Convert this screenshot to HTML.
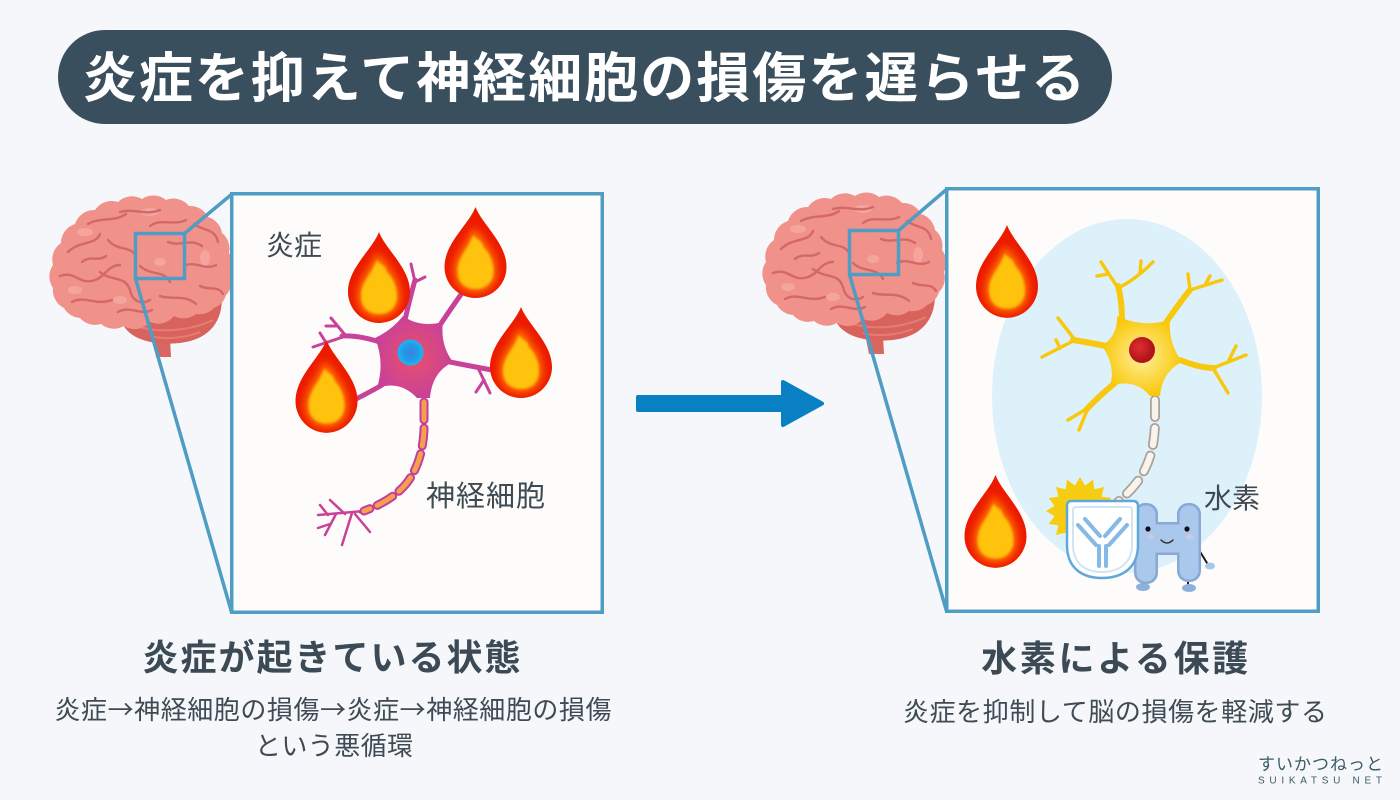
<!DOCTYPE html>
<html><head><meta charset="utf-8">
<style>
html,body{margin:0;padding:0;background:#f6f7fa;}
svg{display:block;}
text{font-family:"Liberation Sans","Noto Sans CJK JP",sans-serif;}
.cj{font-family:"Noto Sans CJK JP",sans-serif;}
</style></head>
<body>
<svg width="1400" height="800" viewBox="0 0 1400 800" xmlns="http://www.w3.org/2000/svg">
<defs>
  <filter id="b3" x="-50%" y="-50%" width="200%" height="200%"><feGaussianBlur stdDeviation="3"/></filter>
  <filter id="b1" x="-50%" y="-50%" width="200%" height="200%"><feGaussianBlur stdDeviation="1.3"/></filter>
  <clipPath id="fc"><path d="M0,0 C7,18 31,36 31,60 A31,31 0 0 1 -31,60 C-31,36 -7,18 0,0 Z"/></clipPath>
  <g id="flame">
    <path d="M0,0 C7,18 31,36 31,60 A31,31 0 0 1 -31,60 C-31,36 -7,18 0,0 Z" fill="#ec1b00"/>
    <g clip-path="url(#fc)">
      <path d="M-2,28 C2,34 6,32 8,40 C14,46 18,55 18,64 C18,76 10,82 0,82 C-10,82 -18,76 -18,64 C-18,52 -10,44 -6,36 C-4,32 -3,30 -2,28 Z" fill="#ff6a00" filter="url(#b3)" transform="translate(0,64) scale(1.22) translate(0,-64)"/>
      <path d="M-2,28 C2,34 6,32 8,40 C14,46 18,55 18,64 C18,76 10,82 0,82 C-10,82 -18,76 -18,64 C-18,52 -10,44 -6,36 C-4,32 -3,30 -2,28 Z" fill="#ffc20e" filter="url(#b1)"/>
    </g>
  </g>
  <radialGradient id="magBody" cx="0.5" cy="0.5" r="0.55"><stop offset="0" stop-color="#e8506a"/><stop offset="1" stop-color="#c6409c"/></radialGradient>
  <radialGradient id="blueNuc"><stop offset="0" stop-color="#3f7fe0"/><stop offset="0.6" stop-color="#1e9de8"/><stop offset="1" stop-color="#22b4f0"/></radialGradient>
  <radialGradient id="yelBody"><stop offset="0" stop-color="#fff0a0"/><stop offset="1" stop-color="#f9c80a"/></radialGradient>
  <radialGradient id="redNuc" cx="0.4" cy="0.4"><stop offset="0" stop-color="#e03030"/><stop offset="1" stop-color="#b3141c"/></radialGradient>
  <g id="brain">
    <polygon points="149,322 169,320 171,357 156,357" fill="#d9675f"/>
    <path d="M120,314 C122,338 150,346 180,343 C205,340 222,326 222,298 L205,310 Z" fill="#d8625c"/>
    <path d="M150,336 C165,340 185,338 200,332 M140,327 C160,333 190,331 213,320" stroke="#e57d72" stroke-width="2" fill="none"/>
    <path d="M64,308 A20,20 0 0 1 53,288 A20,20 0 0 1 53,265 A20,20 0 0 1 61,243 A20,20 0 0 1 75,224 A20,20 0 0 1 95,210 A20,20 0 0 1 118,202 A20,20 0 0 1 142,199 A20,20 0 0 1 166,200 A20,20 0 0 1 189,206 A20,20 0 0 1 208,217 A20,20 0 0 1 222,233 A20,20 0 0 1 229,253 A20,20 0 0 1 231,275 A20,20 0 0 1 226,295 A20,20 0 0 1 214,308 A20,20 0 0 1 196,314 A20,20 0 0 1 174,316 A20,20 0 0 1 150,322 A20,20 0 0 1 124,326 A20,20 0 0 1 101,324 A20,20 0 0 1 80,318 A20,20 0 0 1 64,308 Z" fill="#f0918a"/>
    <g fill="#f6aaa2" opacity="0.8">
      <ellipse cx="85" cy="232" rx="8" ry="4"/><ellipse cx="150" cy="212" rx="9" ry="4"/>
      <ellipse cx="205" cy="258" rx="5" ry="8"/><ellipse cx="75" cy="290" rx="7" ry="4"/>
      <ellipse cx="160" cy="262" rx="6" ry="4"/><ellipse cx="120" cy="300" rx="7" ry="4"/>
    </g>
    <g stroke="#d3686b" stroke-width="2.4" fill="none" stroke-linecap="round">
      <path d="M68,252 C80,240 95,246 100,234"/>
      <path d="M60,276 C75,270 80,286 95,280 C105,277 108,265 120,265"/>
      <path d="M72,302 C85,295 95,306 112,300"/>
      <path d="M88,224 C100,217 115,222 126,214"/>
      <path d="M108,240 C118,252 130,245 136,256"/>
      <path d="M120,212 C135,208 145,216 160,210"/>
      <path d="M150,226 C160,218 175,226 186,220"/>
      <path d="M168,242 C180,247 190,238 202,246"/>
      <path d="M194,224 C205,232 215,228 218,242"/>
      <path d="M100,272 C112,282 125,275 130,290 C132,300 140,306 150,300"/>
      <path d="M140,266 C150,276 165,270 170,282"/>
      <path d="M160,296 C170,300 185,294 196,304"/>
      <path d="M184,266 C195,260 205,271 216,265"/>
      <path d="M200,286 C210,291 218,285 223,294"/>
      <path d="M118,312 C130,305 140,316 152,310"/>
      <path d="M82,262 C90,255 98,262 106,256"/>
    </g>
  </g>
</defs>

<!-- Title pill -->
<rect x="58" y="30" width="1054" height="94" rx="47" fill="#3a4f5d"/>
<text x="585" y="97" text-anchor="middle" font-size="54" font-weight="bold" fill="#ffffff" letter-spacing="2">炎症を抑えて神経細胞の損傷を遅らせる</text>

<!-- Brains -->
<use href="#brain"/>
<use href="#brain" transform="translate(713,-3)"/>

<!-- Left box -->
<rect x="231.75" y="193.75" width="370.5" height="418.5" fill="#fefcfa" stroke="#4f9cc4" stroke-width="3.5"/>
<g stroke="#4f9cc4" stroke-width="3.5" fill="none">
  <rect x="135.5" y="233.5" width="49" height="45"/>
  <line x1="184.5" y1="233.5" x2="232" y2="194"/>
  <line x1="135.5" y1="278.5" x2="231.5" y2="612"/>
</g>

<!-- Right box -->
<rect x="946.75" y="188.75" width="371.5" height="422.5" fill="#fefcfa" stroke="#4f9cc4" stroke-width="3.5"/>
<g stroke="#4f9cc4" stroke-width="3.5" fill="none">
  <rect x="849.5" y="230.5" width="49" height="44"/>
  <line x1="898.5" y1="230.5" x2="947" y2="189"/>
  <line x1="849.5" y1="274.5" x2="946.5" y2="611"/>
</g>

<!-- Left neuron -->
<g stroke="#c9429a" fill="none" stroke-linecap="round">
  <path d="M388,345 Q362,335 342,336" stroke-width="5"/>
  <path d="M346,336 L331,318 M337,326 L326,326 M346,336 L313,347 M325,341 L320,333" stroke-width="3"/>
  <path d="M405,320 Q410,298 415,280" stroke-width="5"/>
  <path d="M415,282 L411,264 M415,282 L425,277" stroke-width="3"/>
  <path d="M440,325 Q450,310 462,293" stroke-width="5"/>
  <path d="M450,362 Q470,366 492,370" stroke-width="5"/>
  <path d="M478,368 L490,393 M484,380 L476,392" stroke-width="3"/>
  <path d="M382,385 Q370,392 356,399" stroke-width="5"/>
  <path d="M424,398 L424,430 C423,452 417,470 406,484 C395,497 380,505 360,512" stroke-width="3"/>
  <path d="M364,511 L318,515 M345,514 L330,500 M336,514 L325,535 M352,513 L342,545 M355,514 L370,532 M328,515 L320,505 M330,524 L318,528" stroke-width="2.5"/>
  <path d="M424,402 L424,430 C423,452 417,470 406,484 C395,497 380,505 364,511" stroke="#c33f9e" stroke-width="9" stroke-dasharray="18 8"/>
  <path d="M424,402 L424,430 C423,452 417,470 406,484 C395,497 380,505 364,511" stroke="#f4a04c" stroke-width="5" stroke-dasharray="18 8"/>
</g>
<path d="M375,338 Q392,330 403,316 Q420,328 443,322 Q440,345 453,362 Q432,372 430,398 L417,398 Q400,380 377,388 Q385,362 375,338 Z" fill="url(#magBody)"/>
<circle cx="410.5" cy="352.5" r="13" fill="url(#blueNuc)"/>

<!-- Left flames -->
<use href="#flame" transform="translate(379,232)"/>
<use href="#flame" transform="translate(475.5,207)"/>
<use href="#flame" transform="translate(521,307)"/>
<use href="#flame" transform="translate(326.5,340) scale(1,1.02)"/>

<text x="266" y="255" font-size="28" fill="#3d4a52">炎症</text>
<text x="426" y="506" font-size="29" fill="#3d4a52" letter-spacing="1">神経細胞</text>

<!-- Arrow -->
<rect x="636" y="395" width="152" height="17" rx="2" fill="#0a80c4"/>
<polygon points="783,382 822,403.5 783,425" fill="#0a80c4" stroke="#0a80c4" stroke-width="4" stroke-linejoin="round"/>

<!-- Right box content -->
<ellipse cx="1127" cy="396" rx="135" ry="177" fill="#ddf1fb"/>

<g stroke="#f8c80f" fill="none" stroke-linecap="round">
  <path d="M1122,322 Q1122,300 1118,286" stroke-width="6"/>
  <path d="M1118,288 L1101,262 M1118,288 Q1135,280 1153,262 M1108,274 L1097,276 M1140,273 L1141,261" stroke-width="3.5"/>
  <path d="M1165,324 Q1180,302 1190,290" stroke-width="6"/>
  <path d="M1190,290 L1222,280 M1190,290 L1188,274 M1205,285 L1210,276" stroke-width="3.5"/>
  <path d="M1106,346 Q1086,342 1073,340" stroke-width="6"/>
  <path d="M1075,340 L1042,357 M1075,340 L1058,318 M1060,348 L1056,340" stroke-width="3.5"/>
  <path d="M1180,360 Q1200,368 1214,368" stroke-width="6"/>
  <path d="M1213,368 L1246,355 M1213,368 L1228,393 M1228,362 L1236,346" stroke-width="3.5"/>
  <path d="M1115,383 Q1097,398 1086,410" stroke-width="6"/>
  <path d="M1088,408 L1068,420 M1088,408 L1079,430" stroke-width="3.5"/>
  <path d="M1155,400 L1155,420 C1155,445 1150,462 1140,478 C1132,490 1124,496 1118,502" stroke="#aaa198" stroke-width="10" stroke-dasharray="17 11"/>
  <path d="M1155,400 L1155,420 C1155,445 1150,462 1140,478 C1132,490 1124,496 1118,502" stroke="#f8f4ec" stroke-width="6.5" stroke-dasharray="17 11"/>
</g>
<path d="M1117,316 Q1142,328 1170,320 Q1168,342 1182,362 Q1162,372 1160,396 L1150,396 Q1135,378 1110,386 Q1116,366 1102,346 Q1118,335 1117,316 Z" fill="url(#yelBody)"/>
<circle cx="1142" cy="350" r="13" fill="url(#redNuc)"/>

<use href="#flame" transform="translate(1007,225) scale(1,1.02)"/>
<use href="#flame" transform="translate(995.5,475) scale(1,1.02)"/>

<!-- starburst -->
<polygon fill="#f7cd12" points="1114,511 1105.5,516.1 1111.4,524 1101.6,525.4 1104,535 1094.4,532.6 1093,542.4 1085.1,536.5 1080,545 1074.9,536.5 1067,542.4 1065.6,532.6 1056,535 1058.4,525.4 1048.6,524 1054.5,516.1 1046,511 1054.5,505.9 1048.6,498 1058.4,496.6 1056,487 1065.6,489.4 1067,479.6 1074.9,485.5 1080,477 1085.1,485.5 1093,479.6 1094.4,489.4 1104,487 1101.6,496.6 1111.4,498 1105.5,505.9"/>

<!-- H character -->
<g stroke="#1c1c1c" stroke-width="2" stroke-linecap="round">
  <line x1="1144" y1="578" x2="1144" y2="586"/>
  <line x1="1188" y1="576" x2="1188" y2="586"/>
  <line x1="1199" y1="550" x2="1207" y2="563"/>
</g>
<ellipse cx="1143" cy="587" rx="7" ry="4" fill="#8fb0dc"/>
<ellipse cx="1189" cy="588" rx="7" ry="4" fill="#8fb0dc"/>
<ellipse cx="1210" cy="566" rx="5" ry="3.5" fill="#a9c7ea"/>
<g fill="#8aa8d5">
  <rect x="1134" y="503" width="24" height="81" rx="11"/>
  <rect x="1177" y="503" width="24" height="79" rx="11"/>
  <rect x="1150" y="522" width="35" height="33"/>
</g>
<g fill="#aac8ec">
  <rect x="1136.5" y="505.5" width="19" height="76" rx="9"/>
  <rect x="1179.5" y="505.5" width="19" height="74" rx="9"/>
  <rect x="1152" y="524.5" width="31" height="28"/>
</g>
<circle cx="1148" cy="529" r="2.6" fill="#111"/>
<circle cx="1187" cy="529" r="2.6" fill="#111"/>
<path d="M1161,540 Q1167,546 1173,540" stroke="#333" stroke-width="1.5" fill="none" stroke-linecap="round"/>
<ellipse cx="1151" cy="537" rx="4" ry="2.5" fill="#d9c6e6" opacity="0.7"/>
<ellipse cx="1190" cy="537" rx="4" ry="2.5" fill="#d9c6e6" opacity="0.7"/>

<!-- Shield -->
<path d="M1071,501 L1133,501 Q1138,501 1138,506 L1138,545 C1138,568 1122,578 1102,578 C1082,578 1067,568 1067,545 L1067,506 Q1067,501 1071,501 Z" fill="#ffffff" stroke="#5fa8da" stroke-width="2.5"/>
<path d="M1076,507 L1129,507 Q1132,507 1132,510 L1132,545 C1132,563 1119,572 1102,572 C1085,572 1073,563 1073,545 L1073,510 Q1073,507 1076,507 Z" fill="none" stroke="#cfe5f5" stroke-width="2"/>
<g stroke="#86bae5" stroke-width="4" stroke-linecap="round" fill="none">
  <path d="M1078,525 L1096,545 M1085,519 L1100,536"/>
  <path d="M1127,525 L1109,545 M1120,519 L1105,536"/>
  <path d="M1099,546 L1099,566 M1106,546 L1106,566"/>
</g>

<text x="1204" y="508" font-size="28" fill="#3d4a52">水素</text>

<!-- Bottom texts -->
<text x="332.5" y="670" text-anchor="middle" font-size="36" font-weight="bold" fill="#3b4a54" letter-spacing="2">炎症が起きている状態</text>
<text x="333" y="719" text-anchor="middle" font-size="26" fill="#3f4b54" textLength="557" lengthAdjust="spacing">炎症<tspan class="cj">→</tspan>神経細胞の損傷<tspan class="cj">→</tspan>炎症<tspan class="cj">→</tspan>神経細胞の損傷</text>
<text x="334" y="755" text-anchor="middle" font-size="26" fill="#3f4b54" textLength="158" lengthAdjust="spacing">という悪循環</text>

<text x="1116" y="671" text-anchor="middle" font-size="36" font-weight="bold" fill="#3b4a54" letter-spacing="2.7">水素による保護</text>
<text x="1115" y="721" text-anchor="middle" font-size="26" fill="#3f4b54" textLength="424" lengthAdjust="spacing">炎症を抑制して脳の損傷を軽減する</text>

<!-- Logo -->
<text x="1258" y="770" font-size="17" fill="#3c5a68" textLength="125" lengthAdjust="spacing">すいかつねっと</text>
<text x="1258" y="783.5" font-size="10" fill="#3c5a68" textLength="124" lengthAdjust="spacing">SUIKATSU NET</text>
</svg>
</body></html>
